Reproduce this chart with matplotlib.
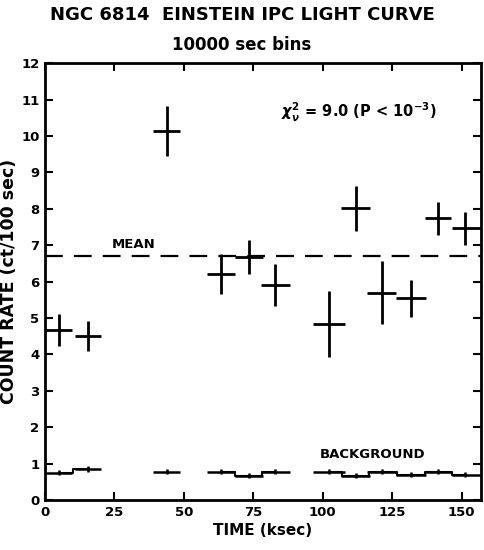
import matplotlib
matplotlib.use('Agg')
import matplotlib.pyplot as plt

# NGC 6814 light curve, 10 ksec bins
time = [4.9, 15.4, 43.8, 63.3, 73.3, 82.8, 102.2, 111.9, 121.3, 131.9, 141.5, 151.3]
time_lo = [4.5, 4.6, 5.0, 5.0, 5.0, 5.2, 5.8, 5.2, 5.3, 5.4, 4.8, 4.7]
time_hi = [4.8, 4.7, 4.7, 5.0, 5.1, 5.3, 5.7, 5.2, 5.2, 5.4, 4.8, 5.7]
rate = [4.67, 4.51, 10.14, 6.21, 6.67, 5.90, 4.83, 8.01, 5.70, 5.54, 7.74, 7.46]
rate_err = [0.44, 0.42, 0.68, 0.55, 0.47, 0.58, 0.90, 0.62, 0.86, 0.51, 0.45, 0.45]
bkg = [0.75, 0.85, 0.77, 0.78, 0.66, 0.77, 0.78, 0.66, 0.78, 0.69, 0.77, 0.69]
bkg_err = [0.07, 0.07, 0.07, 0.07, 0.07, 0.07, 0.07, 0.07, 0.07, 0.07, 0.07, 0.07]
mean_rate = 6.7

# runs of adjacent bins (indices) whose background is joined up
bkg_groups = [[0, 1], [2], [3, 4, 5], [6, 7, 8, 9, 10, 11]]

xticks = [0, 25, 50, 75, 100, 125, 150]
xticklabels = ['0', '25', '50', '75', '100', '125', '150']
yticks = list(range(0, 13))

plt.rcParams['font.family'] = ['DejaVu Sans']
plt.rcParams['font.weight'] = 'bold'
plt.rcParams['axes.labelweight'] = 'bold'

fig = plt.figure(figsize=(4.84, 5.5), dpi=100)
ax = fig.add_axes([0.093, 0.091, 0.901, 0.794])

# source points
ax.errorbar(time, rate, yerr=rate_err, xerr=[time_lo, time_hi], fmt='none',
            ecolor='black', elinewidth=2.0, capsize=0)

# background points
ax.errorbar(time, bkg, yerr=bkg_err, xerr=[time_lo, time_hi], fmt='none',
            ecolor='black', elinewidth=1.8, capsize=0)
# join adjacent background bins
for g in bkg_groups:
    if len(g) > 1:
        xs = [time[i] for i in g]
        ys = [bkg[i] for i in g]
        ax.step(xs, ys, where='mid', color='black', lw=1.5)

# mean line
ax.axhline(mean_rate, color='black', lw=1.6, dashes=(8, 5))

ax.text(32, 7.03, 'MEAN', ha='center', va='center', fontsize=9.5)
ax.text(118, 1.24, 'BACKGROUND', ha='center', va='center', fontsize=9.5)
ax.text(113, 10.66, r'$\chi^2_\nu$ = 9.0 (P < 10$^{-3}$)', ha='center', va='center', fontsize=10.5)

ax.set_xlim(0, 157)
ax.set_ylim(0, 12)
ax.set_xticks(xticks)
ax.set_xticklabels(xticklabels)
ax.set_yticks(yticks)
ax.tick_params(direction='in', top=True, right=True, length=6, width=1.5,
               labelsize=9.5, pad=4)
for s in ax.spines.values():
    s.set_linewidth(2)

ax.set_xlabel('TIME (ksec)', fontsize=11, labelpad=3)
ax.set_ylabel('COUNT RATE (ct/100 sec)', fontsize=12.5)
ax.yaxis.set_label_coords(-0.062, 0.5)

fig.text(0.5, 0.972, 'NGC 6814  EINSTEIN IPC LIGHT CURVE', ha='center', va='center', fontsize=13)
fig.text(0.5, 0.918, '10000 sec bins', ha='center', va='center', fontsize=12)

fig.savefig('out.png', dpi=100)
